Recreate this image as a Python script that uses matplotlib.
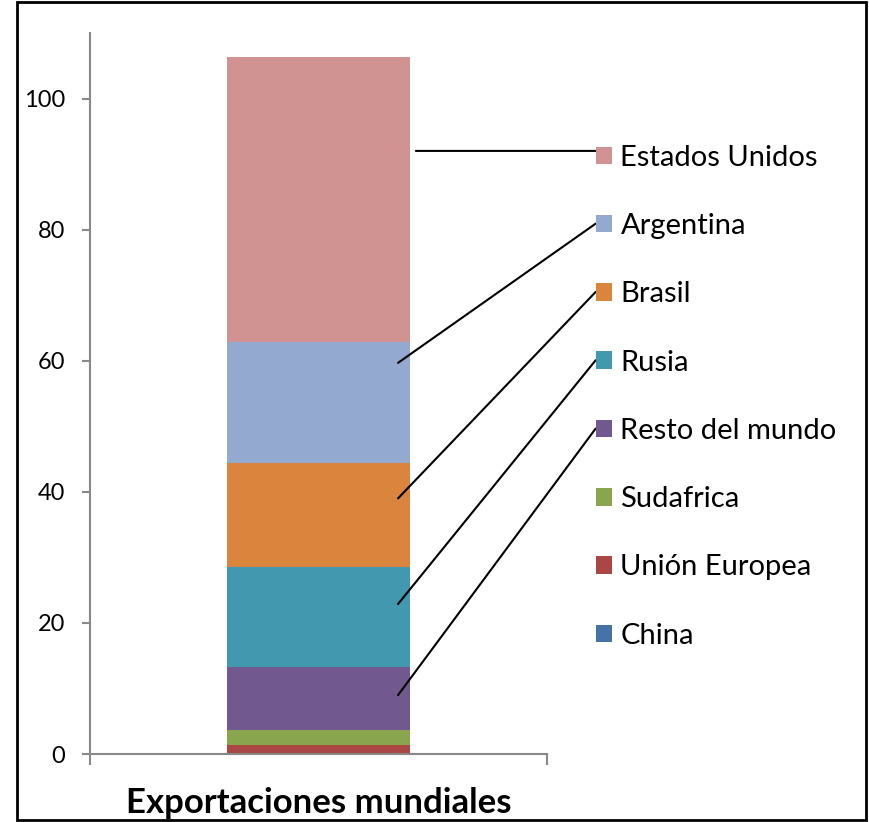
import matplotlib
matplotlib.use("Agg")
import matplotlib.pyplot as plt
from matplotlib.patches import Rectangle, ConnectionPatch

plt.rcParams['font.family'] = ['Lato', 'DejaVu Sans']

# datos (de abajo hacia arriba en la barra)
categoria = ["Exportaciones mundiales"]
series = ["China", "Unión Europea", "Sudafrica", "Resto del mundo",
          "Rusia", "Brasil", "Argentina", "Estados Unidos"]
valores = [0.1, 1.3, 2.3, 9.6, 15.2, 15.9, 18.4, 43.6]
colores = ["#4572A7", "#AA4643", "#89A54E", "#71588F",
           "#4198AF", "#DB843D", "#93A9CF", "#D19392"]
# lineas guia: serie -> (x inicial en la barra, fraccion del segmento, horizontal)
guias = {"Estados Unidos": (0.213, 0.67, True), "Argentina": (0.174, 0.83, False),
         "Brasil": (0.174, 0.66, False), "Rusia": (0.174, 0.63, False),
         "Resto del mundo": (0.174, 0.55, False)}

fig = plt.figure(figsize=(8.69, 8.22), dpi=100)
ax = fig.add_axes([90/869, 68/822, 457/869, 721/822])

base = 0
bases = []
for nombre, v, c in zip(series, valores, colores):
    ax.bar(0, v, width=0.4, bottom=base, color=c, label=nombre)
    bases.append(base)
    base += v

ax.set_xlim(-0.5, 0.5)
ax.set_ylim(0, 110)
ax.set_yticks(range(0, 101, 20))
ax.set_xticks([0])
ax.set_xticklabels(categoria, fontsize=25, fontweight='bold')
ax.set_xticks([-0.5, 0.5], minor=True)
ax.tick_params(axis='x', which='major', length=0, pad=24)
ax.tick_params(axis='x', which='minor', length=8, width=1.5, color='#888888', direction='out')
ax.tick_params(axis='y', length=6, width=1.5, color='#888888', labelsize=17, pad=12)
for s in ['top', 'right']:
    ax.spines[s].set_visible(False)
for s in ['left', 'bottom']:
    ax.spines[s].set_color('#888888')
    ax.spines[s].set_linewidth(1.5)

h, l = ax.get_legend_handles_labels()
leg = fig.legend(h[::-1], l[::-1], loc='upper left', bbox_to_anchor=(584/869, 1 - 133/822),
                 frameon=False, fontsize=21, handlelength=0.55, handleheight=0.55,
                 handletextpad=0.3, labelspacing=1.45, borderaxespad=0)

fig.canvas.draw()
r = fig.canvas.get_renderer()
for patch, texto in zip(leg.legend_handles, leg.get_texts()):
    nombre = texto.get_text()
    if nombre not in guias:
        continue
    i = series.index(nombre)
    x0, frac, horiz = guias[nombre]
    y0 = bases[i] + frac * valores[i]
    bb = patch.get_window_extent(r)
    y1 = ax.transData.transform((x0, y0))[1] if horiz else (bb.y0 + bb.y1) / 2
    cp = ConnectionPatch(xyA=(x0, y0), coordsA=ax.transData,
                         xyB=(bb.x0, y1), coordsB='figure pixels',
                         color='black', linewidth=1.5)
    fig.add_artist(cp)

fig.add_artist(Rectangle((17/869, 2/822), 849/869, 818/822, transform=fig.transFigure,
                         fill=False, edgecolor='black', linewidth=2))

fig.savefig("out.png", dpi=100)
